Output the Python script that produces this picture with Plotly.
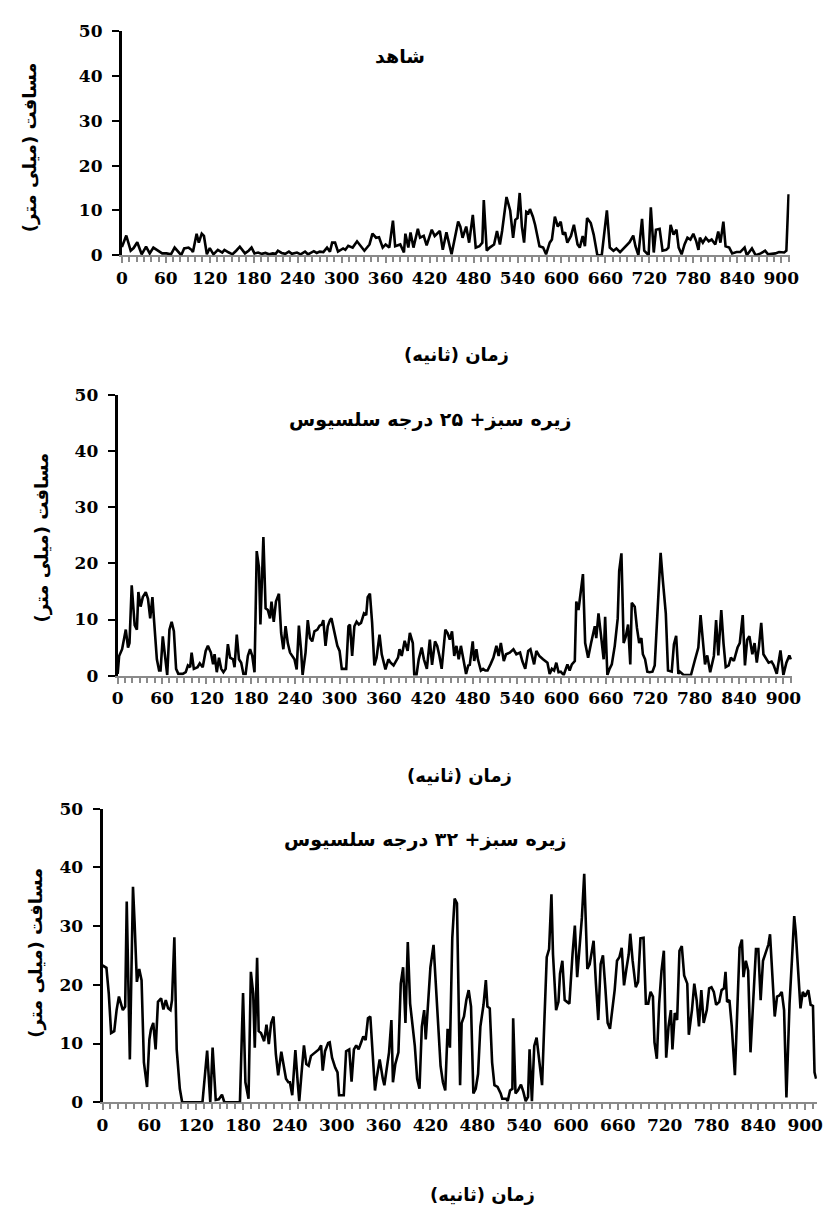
import plotly.graph_objects as go

W, H = 835, 1217

# ---------------- data (time in s, distance in mm) ----------------
time_control = [0, 6, 12, 16, 21, 27, 33, 38, 43, 50, 55, 61, 67, 72, 77, 81, 85, 91, 95, 97,
                102, 105, 109, 112, 116, 120, 125, 131, 137, 140, 146, 151, 156, 161, 168, 173, 177, 181, 186, 191,
                196, 201, 206, 210, 213, 218, 223, 228, 232, 236, 239, 244, 250, 254, 258, 262, 266, 270, 275, 280,
                284, 287, 291, 295, 302, 305, 309, 315, 321, 327, 331, 338, 342, 347, 351, 356, 360, 365, 370, 373,
                380, 385, 387, 391, 394, 398, 404, 407, 412, 416, 423, 427, 434, 438, 443, 450, 454, 459, 462, 465,
                470, 474, 479, 483, 488, 492, 494, 498, 502, 508, 512, 516, 519, 525, 530, 534, 537, 540, 543, 546,
                549, 552, 555, 557, 561, 564, 570, 575, 579, 584, 587, 591, 595, 599, 602, 605, 608, 613, 617, 622,
                625, 629, 632, 635, 640, 644, 649, 655, 662, 666, 671, 675, 680, 687, 693, 698, 701, 705, 710, 713,
                719, 722, 726, 729, 734, 738, 743, 746, 749, 753, 757, 760, 764, 768, 772, 776, 780, 784, 787, 789,
                793, 797, 801, 805, 810, 814, 817, 821, 824, 829, 833, 839, 844, 850, 853, 860, 865, 872, 878, 882,
                892, 897, 904, 907, 910]
dist_control = [1.8, 4.4, 1.0, 1.6, 2.9, 0.2, 1.9, 0.4, 1.7, 1.0, 0.4, 0.4, 0.2, 1.7, 0.8, 0.0, 1.5, 1.7, 1.2, 0.7,
                4.8, 2.8, 4.8, 4.3, 0.2, 1.6, 0.2, 1.2, 0.6, 1.2, 0.6, 0.2, 1.0, 1.9, 0.4, 1.0, 1.7, 0.4, 0.6, 0.3,
                0.5, 0.2, 0.4, 0.3, 1.0, 0.5, 0.3, 0.8, 0.3, 0.5, 0.6, 0.2, 0.8, 0.2, 0.5, 0.9, 0.5, 0.8, 0.7, 1.7,
                0.8, 2.8, 2.8, 0.8, 1.5, 1.2, 2.1, 1.7, 3.1, 1.7, 1.0, 2.4, 4.8, 3.9, 4.0, 1.7, 2.4, 1.7, 7.7, 2.0,
                2.4, 0.6, 4.8, 1.7, 5.1, 1.7, 5.9, 3.9, 4.3, 2.2, 5.7, 4.3, 5.4, 1.2, 5.1, 0.2, 3.5, 7.5, 6.4, 3.9,
                6.4, 2.8, 9.0, 1.7, 2.0, 2.8, 12.3, 1.0, 1.7, 2.4, 5.4, 2.4, 5.4, 13.0, 10.0, 3.9, 7.9, 8.3, 13.9, 6.4,
                2.8, 9.7, 9.4, 10.3, 8.6, 6.8, 2.0, 1.7, 0.2, 2.8, 3.5, 8.6, 6.4, 7.5, 4.6, 5.1, 2.8, 4.3, 6.8, 2.4,
                1.7, 4.3, 2.0, 8.3, 7.2, 4.6, 0.0, 0.0, 10.0, 1.7, 1.0, 1.5, 0.7, 2.0, 2.9, 4.4, 2.0, 0.0, 8.1, 1.0,
                0.0, 10.7, 0.6, 5.7, 5.9, 1.0, 1.2, 1.7, 6.8, 4.6, 5.7, 1.7, 0.2, 2.4, 3.9, 3.5, 4.8, 3.1, 1.2, 3.9,
                2.8, 3.9, 3.1, 3.5, 2.4, 5.3, 2.8, 7.5, 2.0, 1.7, 0.4, 0.7, 0.7, 1.7, 0.0, 1.5, 0.0, 0.4, 1.0, 0.2,
                0.4, 0.7, 0.6, 1.0, 13.6]

time_25 = [0, 2, 6, 11, 14, 16, 19, 23, 26, 28, 31, 34, 38, 41, 44, 47, 49, 53, 56, 58,
           61, 65, 67, 70, 73, 76, 79, 82, 88, 92, 95, 98, 100, 103, 108, 111, 115, 119, 122, 126,
           129, 131, 134, 137, 140, 143, 146, 149, 152, 156, 158, 161, 164, 167, 170, 173, 176, 179, 182, 185,
           188, 191, 193, 197, 200, 203, 206, 208, 211, 214, 218, 221, 224, 227, 230, 233, 236, 239, 242, 245,
           248, 250, 254, 257, 260, 263, 266, 270, 273, 276, 278, 281, 284, 287, 289, 294, 297, 300, 303, 309,
           312, 314, 317, 320, 323, 326, 329, 333, 336, 338, 341, 344, 347, 350, 354, 357, 360, 362, 366, 369,
           373, 376, 379, 381, 384, 388, 392, 395, 399, 401, 404, 407, 411, 414, 418, 422, 425, 429, 432, 435,
           438, 443, 446, 449, 452, 455, 458, 461, 464, 467, 471, 474, 476, 480, 482, 485, 487, 491, 494, 497,
           500, 504, 508, 512, 515, 518, 522, 525, 530, 535, 539, 544, 547, 551, 555, 558, 563, 566, 570, 575,
           581, 584, 587, 590, 593, 596, 599, 603, 608, 611, 614, 618, 620, 623, 626, 629, 632, 636, 640, 645,
           647, 650, 653, 657, 659, 662, 665, 668, 672, 676, 678, 681, 684, 687, 690, 693, 695, 699, 702, 705,
           708, 710, 713, 716, 719, 723, 726, 730, 734, 737, 741, 744, 749, 752, 755, 758, 760, 765, 775, 780,
           785, 788, 794, 797, 801, 806, 809, 812, 816, 819, 822, 826, 829, 833, 838, 841, 845, 848, 851, 854,
           858, 861, 864, 867, 870, 873, 876, 880, 884, 887, 891, 896, 900, 904, 908, 910]
dist_25 = [0.3, 3.5, 4.7, 8.2, 5.0, 5.8, 16.1, 9.0, 8.2, 14.9, 12.3, 14.0, 14.9, 13.7, 10.2, 14.0, 10.2, 2.9, 0.9, 0.9,
           7.0, 2.9, 0.1, 8.2, 9.6, 7.9, 1.2, 0.3, 0.3, 0.6, 1.8, 1.5, 4.1, 1.2, 1.5, 2.2, 1.5, 4.4, 5.3, 4.1,
           2.0, 3.8, 0.6, 3.2, 1.2, 0.6, 1.2, 5.6, 3.2, 2.9, 1.5, 7.3, 2.9, 2.3, 0.3, 0.3, 3.5, 4.7, 3.5, 0.6,
           22.2, 19.3, 9.1, 24.7, 12.0, 11.7, 10.2, 13.2, 9.6, 13.2, 14.6, 7.6, 4.7, 8.8, 5.8, 4.1, 3.5, 2.9, 1.1, 8.9,
           4.4, 0.1, 4.1, 9.9, 6.7, 6.1, 7.9, 8.2, 8.9, 9.1, 9.9, 5.3, 8.8, 9.9, 10.2, 7.0, 5.3, 4.4, 1.2, 1.2,
           8.8, 9.1, 3.5, 8.8, 9.6, 9.1, 9.4, 11.1, 10.8, 14.0, 14.6, 9.4, 1.8, 3.2, 7.3, 3.8, 2.3, 1.1, 2.9, 2.3,
           1.8, 2.6, 3.2, 4.7, 3.5, 6.2, 4.4, 7.6, 5.8, 0.1, 0.1, 2.9, 5.0, 2.9, 1.2, 6.4, 1.9, 6.1, 5.3, 3.5,
           1.2, 8.2, 7.6, 6.4, 7.9, 3.5, 5.3, 2.9, 5.3, 3.2, 0.3, 1.8, 1.9, 6.1, 2.6, 4.7, 2.9, 0.9, 1.2, 0.9,
           0.9, 2.0, 3.2, 5.3, 3.5, 5.8, 2.6, 3.8, 4.1, 4.7, 3.8, 4.1, 2.6, 1.2, 4.4, 4.7, 2.0, 4.4, 3.5, 2.9,
           2.3, 0.3, 1.2, 0.9, 2.3, 0.6, 0.7, 0.1, 2.0, 0.9, 2.0, 2.6, 13.2, 11.7, 15.5, 18.1, 5.8, 3.2, 5.8, 8.8,
           6.7, 11.1, 7.6, 2.9, 10.5, 0.1, 1.2, 2.0, 5.3, 10.2, 18.7, 21.8, 5.8, 7.0, 9.1, 2.0, 13.0, 12.3, 8.5, 5.8,
           6.7, 3.8, 2.9, 0.7, 0.6, 0.7, 1.8, 11.1, 21.9, 17.0, 11.1, 0.9, 0.7, 5.6, 7.1, 0.3, 0.7, 0.1, 0.1, 2.6,
           5.0, 10.8, 2.0, 3.6, 0.6, 3.5, 9.9, 3.6, 11.7, 5.8, 1.5, 1.8, 3.2, 2.6, 5.0, 5.8, 10.8, 1.8, 6.4, 7.0,
           3.8, 5.8, 2.3, 5.3, 9.4, 3.8, 3.2, 2.3, 2.5, 1.8, 0.3, 4.5, 0.1, 2.3, 3.6, 2.9]

time_32 = [0, 5, 8, 11, 15, 18, 21, 24, 26, 29, 31, 35, 39, 41, 44, 47, 50, 53, 57, 60,
           62, 65, 68, 71, 75, 78, 81, 84, 87, 89, 92, 95, 99, 102, 128, 134, 138, 141, 145, 149,
           153, 156, 176, 180, 183, 187, 190, 193, 195, 198, 200, 203, 207, 210, 213, 216, 219, 222, 225, 229,
           231, 235, 238, 240, 243, 247, 250, 252, 255, 258, 261, 264, 267, 270, 274, 277, 280, 282, 285, 289,
           291, 294, 298, 301, 303, 309, 312, 316, 319, 322, 325, 328, 331, 334, 337, 340, 343, 346, 349, 351,
           355, 359, 361, 364, 367, 370, 372, 375, 379, 382, 385, 388, 391, 394, 397, 400, 403, 406, 409, 412,
           414, 417, 420, 424, 427, 430, 433, 436, 439, 442, 445, 448, 451, 454, 458, 460, 463, 466, 469, 472,
           475, 478, 481, 484, 488, 491, 493, 496, 499, 502, 506, 510, 512, 517, 519, 522, 525, 526, 529, 532,
           536, 539, 542, 545, 547, 550, 553, 556, 559, 563, 566, 569, 572, 575, 577, 581, 584, 586, 589, 592,
           595, 598, 602, 605, 608, 611, 614, 617, 621, 624, 629, 632, 635, 638, 641, 644, 647, 650, 653, 656,
           659, 662, 665, 668, 671, 674, 676, 679, 683, 686, 689, 693, 696, 699, 702, 705, 707, 710, 713, 716,
           719, 722, 725, 728, 730, 733, 736, 739, 742, 745, 749, 751, 755, 758, 761, 764, 767, 770, 774, 777,
           780, 783, 786, 790, 793, 796, 798, 800, 803, 806, 810, 813, 816, 819, 821, 824, 827, 830, 833, 837,
           840, 843, 846, 849, 853, 855, 858, 861, 864, 867, 870, 873, 876, 880, 883, 886, 888, 891, 894, 897,
           900, 904, 907, 910, 912, 914]
dist_32 = [23.3, 22.9, 18.5, 11.8, 12.1, 15.7, 18.0, 16.8, 15.7, 16.3, 34.2, 7.3, 36.7, 30.8, 20.5, 22.7, 20.8, 6.8, 2.6, 10.7,
           12.4, 13.5, 9.0, 17.1, 17.7, 15.8, 17.4, 16.0, 15.7, 17.4, 28.1, 9.0, 2.3, 0.0, 0.0, 8.8, 0.0, 9.3, 0.4, 0.5,
           1.3, 0.0, 0.0, 18.6, 3.4, 0.6, 22.2, 18.5, 9.3, 24.6, 12.1, 11.8, 10.4, 13.2, 9.9, 13.5, 14.6, 8.2, 4.6, 8.6,
           6.8, 4.0, 3.4, 3.4, 1.2, 8.9, 3.4, 0.2, 5.1, 9.7, 6.5, 6.2, 7.9, 8.2, 8.7, 9.0, 9.7, 5.4, 8.7, 10.1,
           10.2, 7.6, 5.9, 5.1, 1.2, 1.2, 8.7, 9.0, 3.5, 9.0, 9.7, 9.0, 10.1, 11.2, 10.6, 14.3, 14.6, 7.9, 2.0, 4.0,
           7.3, 4.0, 2.9, 5.7, 8.5, 14.0, 3.4, 6.5, 8.5, 20.2, 23.0, 13.5, 27.3, 16.8, 13.5, 9.6, 4.0, 2.3, 12.9, 15.7,
           10.7, 17.4, 23.0, 26.8, 19.6, 12.4, 6.2, 3.4, 2.0, 12.5, 9.3, 28.0, 34.7, 33.9, 2.9, 13.5, 14.6, 17.4, 19.1, 16.3,
           1.5, 2.3, 4.8, 12.9, 16.6, 20.8, 16.3, 16.0, 6.8, 2.9, 2.6, 1.5, 0.6, 0.6, 0.2, 2.0, 2.3, 14.3, 1.5, 2.0,
           3.0, 1.8, 0.2, 0.9, 9.0, 0.2, 9.6, 11.0, 7.6, 2.9, 14.0, 24.7, 26.1, 35.4, 25.2, 15.7, 17.1, 21.9, 24.1, 17.4,
           17.1, 16.8, 25.2, 30.1, 21.3, 25.8, 31.4, 38.9, 22.7, 23.5, 27.5, 20.2, 14.0, 23.5, 25.0, 19.6, 13.5, 12.5, 15.7, 19.1,
           24.1, 24.7, 26.3, 19.9, 22.7, 25.2, 28.7, 24.1, 19.6, 20.5, 27.9, 28.0, 16.8, 16.8, 18.8, 18.0, 10.2, 7.4, 16.8, 22.4,
           25.8, 7.6, 12.9, 15.7, 9.0, 15.2, 14.0, 25.8, 26.6, 21.6, 20.2, 11.5, 15.7, 20.2, 17.4, 12.9, 19.1, 13.5, 15.7, 19.4,
           19.6, 18.8, 16.6, 17.1, 19.1, 19.4, 22.2, 17.1, 17.4, 12.9, 4.6, 15.2, 26.3, 27.7, 21.3, 24.1, 22.4, 8.5, 16.8, 26.1,
           26.1, 17.4, 24.1, 25.2, 26.9, 28.6, 20.8, 14.6, 18.0, 18.2, 18.8, 15.7, 0.8, 16.8, 24.1, 31.7, 28.9, 23.3, 16.0, 18.8,
           18.0, 19.1, 16.6, 16.4, 5.1, 4.0]

panel_titles = ["شاهد", "زیره سبز+ ۲۵ درجه سلسیوس", "زیره سبز+ ۳۲ درجه سلسیوس"]
y_title = "مسافت (میلی متر)"
x_title = "زمان (ثانیه)"
x_tick_values = list(range(0, 901, 60))
y_tick_values = [0, 10, 20, 30, 40, 50]

series = [(time_control, dist_control), (time_25, dist_25), (time_32, dist_32)]

# ---------------- layout geometry (pixels) ----------------
# (left, right, top, bottom) of each plot area, and x range max
boxes = [(118, 798, 21.7, 249.3, 911.5),
         (113.7, 800.3, 391.7, 676.7, 911.5),
         (98.3, 825.7, 812, 1110.5, 915)]
title_pos = [(401, 47), (432, 416), (427, 843)]
ytitle_pos = [(24, 140), (37, 536), (31, 958)]
xtitle_pos = [(459, 350), (462, 778), (485, 1204)]

fig = go.Figure()
tick_font = dict(family="DejaVu Serif", size=17, color="black", weight="bold")
title_font = dict(family="DejaVu Sans", size=19, color="black", weight="bold")
axis_title_font = dict(family="DejaVu Sans", size=18, color="black", weight="bold")

for i, ((t, d), (l, r, tp, bt, xmax)) in enumerate(zip(series, boxes)):
    xa = "x" if i == 0 else f"x{i+1}"
    ya = "y" if i == 0 else f"y{i+1}"
    fig.add_trace(go.Scatter(x=t, y=d, mode="lines", xaxis=xa, yaxis=ya,
                             line=dict(color="black", width=2.6), showlegend=False))
    xkey = "xaxis" if i == 0 else f"xaxis{i+1}"
    ykey = "yaxis" if i == 0 else f"yaxis{i+1}"
    fig.update_layout(**{
        xkey: dict(domain=[l / W, r / W], range=[0, xmax], anchor=ya,
                   showgrid=False, zeroline=False, showline=True, linecolor="#8a8a8a", linewidth=2,
                   tickvals=x_tick_values, ticks="outside", ticklen=6, tickwidth=1.5, tickcolor="#8a8a8a",
                   minor=dict(dtick=10, tick0=0, ticks="outside", ticklen=5, tickwidth=1.5, tickcolor="#8a8a8a"),
                   tickfont=tick_font, layer="below traces", fixedrange=True),
        ykey: dict(domain=[1 - bt / H, 1 - tp / H], range=[0, 50], anchor=xa,
                   showgrid=False, zeroline=False, showline=True, linecolor="black", linewidth=3,
                   tickvals=y_tick_values, ticks="outside", ticklen=7, tickwidth=2, tickcolor="black",
                   tickfont=tick_font, ticklabelstandoff=6),
    })
    fig.add_annotation(text=panel_titles[i], x=title_pos[i][0] / W, y=1 - title_pos[i][1] / H,
                       xref="paper", yref="paper", showarrow=False, font=title_font,
                       xanchor="center", yanchor="middle")
    fig.add_annotation(text=y_title, x=ytitle_pos[i][0] / W, y=1 - ytitle_pos[i][1] / H,
                       xref="paper", yref="paper", showarrow=False, font=axis_title_font, textangle=-90,
                       xanchor="center", yanchor="middle")
    fig.add_annotation(text=x_title, x=xtitle_pos[i][0] / W, y=1 - xtitle_pos[i][1] / H,
                       xref="paper", yref="paper", showarrow=False, font=axis_title_font,
                       xanchor="center", yanchor="middle")

fig.update_layout(width=W, height=H, margin=dict(l=0, r=0, t=0, b=0),
                  plot_bgcolor="white", paper_bgcolor="white")
fig.write_html("out.html")
